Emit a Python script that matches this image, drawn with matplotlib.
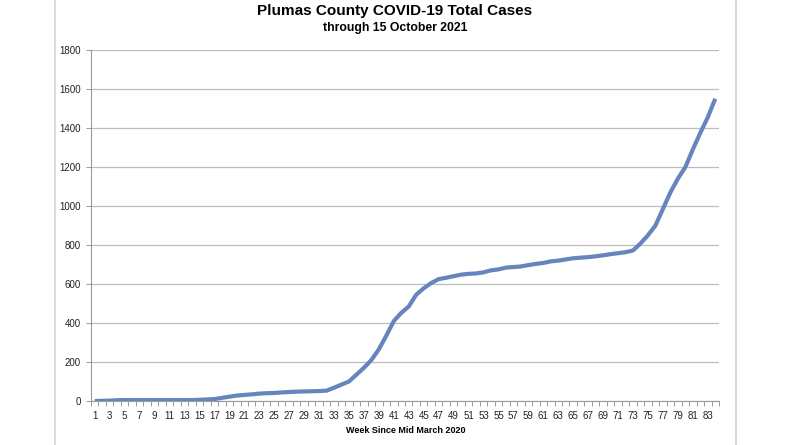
import matplotlib
matplotlib.use("Agg")
import matplotlib.pyplot as plt
from matplotlib.lines import Line2D
from matplotlib.ticker import FixedLocator

weeks = list(range(1, 85))
cases = [0, 1, 2, 4, 5, 5, 5, 5, 5, 5,
         5, 5, 5, 5, 6, 8, 10, 16, 22, 28,
         31, 34, 38, 40, 41, 44, 46, 48, 49, 50,
         51, 53, 68, 84, 100, 135, 170, 210, 265, 335,
         410, 452, 485, 545, 578, 605, 625, 632, 640, 648,
         652, 654, 660, 670, 675, 684, 687, 690, 697, 703,
         708, 716, 720, 726, 732, 735, 738, 742, 747, 753,
         758, 763, 772, 808, 850, 900, 985, 1070, 1140, 1200,
         1290, 1375, 1455, 1550]
xtick_labels = [str(w) for w in weeks if w % 2 == 1]
yticks = list(range(0, 2000, 200))

title = "Plumas County COVID-19 Total Cases"
subtitle = "through 15 October 2021"
xlabel = "Week Since Mid March 2020"

FONT = ['Liberation Sans', 'DejaVu Sans']
plt.rcParams['font.family'] = FONT

W, H = 800, 445
fig = plt.figure(figsize=(W / 100, H / 100), dpi=100)
ax = fig.add_axes([91 / W, 1 - 401 / H, (719 - 91) / W, (401 - 50) / H])

ax.plot(weeks, cases, color='#6685bd', lw=3.0, solid_capstyle='butt',
        solid_joinstyle='round', zorder=3)

ax.set_xlim(0.5, 84.5)
ax.set_ylim(0, 1800)
ax.set_yticks(yticks)
ax.set_yticklabels([str(v) for v in yticks], fontsize=7, color='#222222')
ax.yaxis.grid(True, color='#bdbdbd', lw=0.9)
ax.set_axisbelow(True)

odd = [w for w in weeks if w % 2 == 1]
ax.xaxis.set_major_locator(FixedLocator(odd))
ax.set_xticklabels(xtick_labels, fontsize=7, color='#222222')
ax.tick_params(axis='x', which='major', length=0, pad=7)
ax.xaxis.set_minor_locator(FixedLocator([w + 0.5 for w in range(0, 85)]))
ax.tick_params(axis='x', which='minor', length=3.5, color='#999999', width=0.7)
ax.tick_params(axis='y', length=3.5, color='#999999', width=0.7, pad=4)

for s in ['top', 'right']:
    ax.spines[s].set_visible(False)
for s in ['left', 'bottom']:
    ax.spines[s].set_color('#999999')
    ax.spines[s].set_linewidth(0.8)

ax.set_xlabel(xlabel, fontsize=6.5, fontweight='bold')
ax.xaxis.set_label_coords((406 - 91) / (719 - 91), -(426 - 401) / (401 - 50))

fig.text(395 / W, 1 - 11 / H, title, ha='center', va='center',
         fontsize=11, fontweight='bold')
fig.text(395 / W, 1 - 28 / H, subtitle, ha='center', va='center',
         fontsize=8.8, fontweight='bold')

for xp in (55, 736):
    fig.add_artist(Line2D([xp / W, xp / W], [0, 1], color='#d4d4d4', lw=1.2,
                          transform=fig.transFigure))

fig.savefig('out.png', dpi=100)
